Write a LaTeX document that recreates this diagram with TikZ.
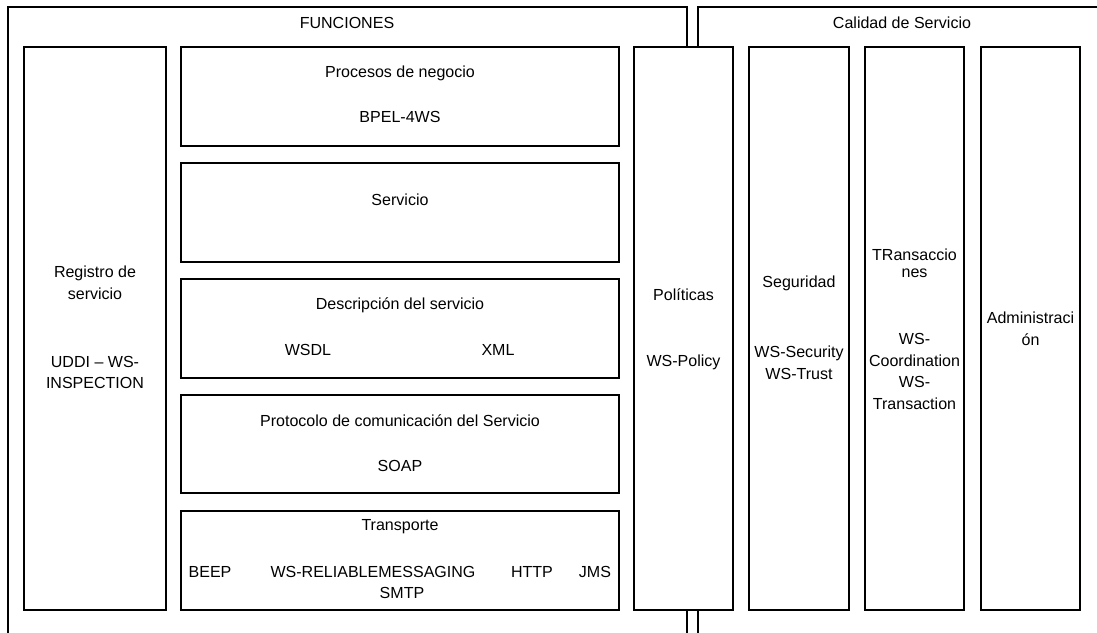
\documentclass[tikz,border=0pt]{standalone}
\usepackage{fontspec}
\setmainfont{Liberation Sans}
\usepackage{tikz}

\begin{document}
\begin{tikzpicture}[x=0.025cm,y=-0.025cm,
  marco/.style={draw,line width=1.1pt},
  caja/.style={marco,fill=white},
  rotulo/.style={inner sep=0pt,align=center,font=\fontsize{11.4}{15.4}\selectfont},
  apretado/.style={rotulo,font=\fontsize{11.4}{12.2}\selectfont}]
\useasboundingbox(0,0)rectangle(1097,632);
\draw[marco](8,640)--(8,7)--(687,7)--(687,640);
\draw[marco](698,640)--(698,7)--(1110,7);
\node[rotulo](fun)at(347,23){FUNCIONES};
\node[rotulo](cal)at(902,23){Calidad de Servicio};
\draw[caja](24,47)rectangle(166,610);
\node[rotulo](registro)at(95,283){Registro de\\servicio};
\node[rotulo](uddi)at(95,372.5){UDDI – WS-\\INSPECTION};
\draw[caja](181,47)rectangle(619,146);
\node[rotulo](procesos)at(400,73){Procesos de negocio};
\node[rotulo](bpel)at(400,117){BPEL-4WS};
\draw[caja](181,163)rectangle(619,262);
\node[rotulo](servicio)at(400,200){Servicio};
\draw[caja](181,279)rectangle(619,378);
\node[rotulo](descripcion)at(400,305){Descripción del servicio};
\node[rotulo](wsdl)at(308,350){WSDL};
\node[rotulo](xml)at(498,350){XML};
\draw[caja](181,395)rectangle(619,493);
\node[rotulo](protocolo)at(400,421){Protocolo de comunicación del Servicio};
\node[rotulo](soap)at(400,466){SOAP};
\draw[caja](181,511)rectangle(619,610);
\node[rotulo](transporte)at(400,527){Transporte};
\node[rotulo](beep)at(210,572){BEEP};
\node[rotulo](wsrm)at(373,572){WS-RELIABLEMESSAGING};
\node[rotulo](http)at(532,572){HTTP};
\node[rotulo](jms)at(595,572){JMS};
\node[rotulo](smtp)at(402,593){SMTP};
\draw[caja](634,47)rectangle(733,610);
\node[rotulo](politicas)at(683.5,295){Políticas};
\node[rotulo](wspolicy)at(683.5,362){WS-Policy};
\draw[caja](749,47)rectangle(849,610);
\node[rotulo](seguridad)at(799,283){Seguridad};
\node[rotulo](wssec)at(799,362.5){WS-Security\\WS-Trust};
\draw[caja](865,47)rectangle(964,610);
\node[apretado](transacciones)at(914.5,263.5){TRansaccio\\nes};
\node[rotulo](wscoord)at(914.5,371.5){WS-\\Coordination\\WS-\\Transaction};
\draw[caja](981,47)rectangle(1080,610);
\node[rotulo](admin)at(1030.5,328.5){Administraci\\ón};
\end{tikzpicture}
\end{document}
